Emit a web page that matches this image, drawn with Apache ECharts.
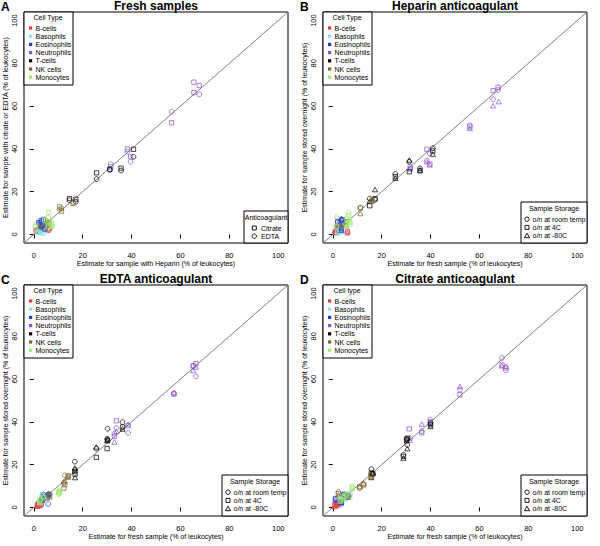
<!DOCTYPE html>
<html><head><meta charset="utf-8">
<script src="https://cdn.jsdelivr.net/npm/echarts@6/dist/echarts.min.js"></script>
<style>html,body{margin:0;padding:0;background:#fff}#c{width:600px;height:546px}</style>
</head><body><div id="c"></div>
<script>
// ---------- DATA ----------
const cellTypes = ['B-cells','Basophils','Eosinophils','Neutrophils','T-cells','NK cells','Monocytes'];
const anticoagulants = ['Citrate','EDTA'];                       // code 0, 1 (panel A)
const storages = ['o/n at room temp','o/n at 4C','o/n at -80C']; // code 0, 1, 2 (panels B-D)
const tickVals = [0,20,40,60,80,100];
const diagonal = [-4,104];
const panelTitles = ['Fresh samples','Heparin anticoagulant','EDTA anticoagulant','Citrate anticoagulant'];
const panelLetters = ['A','B','C','D'];
const xNames = ['Estimate for sample with Heparin (% of leukocytes)','Estimate for fresh sample (% of leukocytes)','Estimate for fresh sample (% of leukocytes)','Estimate for fresh sample (% of leukocytes)'];
const yNames = ['Estimate for sample with citrate or EDTA (% of leukocytes)','Estimate for sample stored overnight (% of leukocytes)','Estimate for sample stored overnight (% of leukocytes)','Estimate for sample stored overnight (% of leukocytes)'];
const cellLegendTitles = ['Cell Type','Cell Type','Cell Type','Cell type'];

// Panel A: [x, y, anticoagulant code]
const A_Bcells = [[1.0,1.5,0],[1.0,2.0,1],[1.5,1.8,0],[1.8,2.5,1],[2.5,2.1,0],[2.5,3.0,1],[5.8,2.0,0],[5.8,2.6,1],[6.5,3.0,0],[6.3,2.2,1],[2.0,1.2,0],[2.0,1.6,1]];
const A_Basophils = [[2.0,1.0,0],[2.0,1.5,1],[3.0,0.8,0],[3.0,1.3,1],[4.0,0.6,0],[4.0,1.0,1],[2.6,2.0,0],[2.6,1.6,1],[3.5,1.8,0],[3.5,2.4,1],[1.5,0.9,0],[1.5,1.3,1]];
const A_Eosinophils = [[2.0,5.5,0],[2.0,5.0,1],[3.0,6.5,0],[3.0,6.0,1],[3.5,4.0,0],[3.5,3.5,1],[4.0,7.0,0],[4.0,6.3,1],[4.5,2.5,0],[4.5,3.0,1],[2.5,4.5,0],[2.5,4.0,1]];
const A_Neutrophils = [[65.5,71.2,0],[65.5,66.3,0],[67.7,69.6,0],[67.7,65.5,1],[56.4,52.2,0],[56.4,57.4,1],[38.3,39.9,0],[38.3,38.7,1],[39.6,36.3,0],[39.6,34.0,1],[31.5,31.6,0],[31.5,32.9,1]];
const A_Tcells = [[40.8,39.8,0],[40.8,36.3,1],[35.7,31.0,0],[35.7,29.9,1],[31.1,30.5,0],[31.1,30.2,1],[25.7,28.8,0],[25.7,25.9,1],[14.6,16.8,0],[14.6,16.0,1],[17.2,16.5,0],[17.2,15.3,1]];
const A_NKcells = [[10.6,12.9,0],[10.6,11.7,1],[11.3,10.9,0],[11.3,12.2,1],[16.1,14.5,0],[16.1,15.2,1],[5.5,5.0,0],[5.5,6.0,1],[3.0,4.0,0],[3.0,3.2,1],[6.2,5.5,0],[6.2,4.6,1]];
const A_Monocytes = [[6.1,10.3,0],[5.9,7.8,1],[7.2,4.8,0],[7.2,5.8,1],[7.5,3.6,0],[7.5,4.4,1],[0.7,3.6,0],[0.7,4.2,1],[4.5,6.5,0],[4.5,7.2,1],[6.0,4.0,0],[6.0,3.0,1]];

// Panel B: [x, y, storage code]
const B_Bcells = [[1.0,0.8,0],[1.0,1.2,1],[1.0,1.8,2],[1.5,2.0,0],[1.5,1.0,1],[1.5,2.6,2],[2.0,1.5,0],[2.0,2.5,1],[2.0,3.2,2],[6.0,1.0,0],[6.0,1.5,1],[6.0,0.8,2]];
const B_Basophils = [[2.0,1.0,0],[2.0,1.5,1],[2.0,0.7,2],[3.5,2.0,0],[3.5,1.5,1],[3.5,1.2,2],[3.0,2.5,0],[3.0,1.8,1],[3.0,2.2,2]];
const B_Eosinophils = [[3.5,6.5,0],[3.5,6.8,1],[3.5,7.5,2],[4.0,6.2,0],[4.0,7.0,1],[4.0,5.5,2],[2.0,5.5,0],[2.0,6.0,1],[2.0,5.0,2],[3.5,3.0,0],[3.5,2.6,1],[3.5,2.0,2]];
const B_Neutrophils = [[65.6,63.2,0],[65.6,67.2,1],[65.6,60.2,2],[67.6,67.6,0],[67.6,68.8,1],[67.9,62.1,2],[56.1,51.0,0],[56.1,50.3,1],[56.1,49.6,2],[38.5,34.5,0],[38.5,39.8,1],[38.5,34.0,2],[39.7,37.9,0],[39.7,32.9,1],[39.7,32.6,2],[31.7,31.7,0],[31.7,30.6,1],[31.7,31.0,2]];
const B_Tcells = [[40.9,40.3,0],[40.9,39.0,1],[40.9,37.6,2],[31.3,34.0,0],[31.3,29.3,1],[31.3,34.8,2],[35.7,30.9,0],[35.7,29.7,1],[35.7,30.2,2],[25.6,28.3,0],[25.6,27.0,1],[25.6,26.3,2],[15.1,16.7,0],[15.1,13.4,1],[15.1,15.6,2],[17.3,16.2,0],[17.3,16.7,1],[17.3,21.0,2]];
const B_NKcells = [[11.3,12.6,0],[11.3,12.3,1],[11.3,9.8,2],[16.0,16.2,0],[16.0,15.4,1],[15.8,15.8,2],[3.0,4.0,0],[3.0,3.5,1],[3.0,4.5,2],[5.5,5.5,0],[5.5,6.0,1],[5.5,4.5,2]];
const B_Monocytes = [[1.5,4.0,0],[1.5,3.5,1],[1.5,8.6,2],[6.5,10.3,0],[6.5,9.0,1],[6.5,6.0,2],[7.0,4.5,0],[7.0,5.5,1],[7.0,7.0,2],[5.5,5.0,0],[5.5,7.5,1],[5.5,4.0,2]];

// Panel C: [x, y, storage code]
const C_Bcells = [[1.5,0.8,0],[1.5,1.2,1],[1.5,0.6,2],[2.0,1.5,0],[2.0,2.0,1],[2.0,1.0,2],[2.5,2.0,0],[2.5,2.6,1],[2.5,1.6,2],[3.0,1.0,0],[3.0,1.5,1],[3.0,2.2,2]];
const C_Basophils = [[4.0,5.0,0],[3.5,6.0,1],[2.9,5.6,2],[2.5,2.0,0],[2.5,2.8,1],[2.5,3.5,2],[3.5,4.0,0],[3.5,4.6,1],[3.5,3.0,2]];
const C_Eosinophils = [[5.9,1.6,0],[5.9,5.9,1],[6.2,6.5,2],[5.5,5.0,0],[5.5,4.5,1],[5.5,6.2,2],[4.0,6.0,0],[4.0,5.2,1],[4.0,4.4,2],[3.5,4.0,0],[3.5,3.4,1],[3.5,4.8,2]];
const C_Neutrophils = [[65.2,66.0,0],[65.2,66.3,1],[65.2,64.1,2],[66.3,61.3,0],[66.3,67.2,1],[66.3,65.7,2],[57.3,53.4,0],[57.3,53.0,1],[57.3,53.8,2],[33.8,37.1,0],[33.8,40.5,1],[33.8,35.6,2],[33.0,34.5,0],[33.0,33.2,1],[33.0,30.6,2],[38.6,34.8,0],[38.6,38.2,1],[38.6,39.0,2]];
const C_Tcells = [[36.3,39.9,0],[36.3,37.6,1],[36.3,36.7,2],[30.2,36.8,0],[30.2,31.4,1],[30.2,32.1,2],[30.0,32.0,0],[30.0,27.5,1],[30.0,31.2,2],[25.6,27.5,0],[25.6,23.4,1],[25.6,28.3,2],[16.8,21.4,0],[16.8,16.8,1],[16.8,18.4,2],[16.9,17.5,0],[16.9,15.6,1],[16.9,14.0,2]];
const C_NKcells = [[12.7,15.0,0],[12.7,10.6,1],[12.7,12.6,2],[12.3,11.5,0],[12.3,9.0,1],[12.3,12.0,2],[14.1,14.5,0],[14.1,14.8,1],[14.1,14.2,2],[6.5,6.2,0],[6.5,5.6,1],[6.5,5.0,2],[3.5,3.0,0],[3.5,3.6,1],[3.5,4.2,2]];
const C_Monocytes = [[10.4,6.7,0],[10.4,7.5,1],[10.4,8.3,2],[10.2,6.2,0],[10.2,7.0,1],[10.2,7.8,2],[2.5,3.0,0],[2.5,3.6,1],[2.5,2.4,2],[4.0,5.5,0],[4.0,4.5,1],[4.0,5.0,2]];

// Panel D: [x, y, storage code]
const D_Bcells = [[0.8,0.8,0],[0.8,1.2,1],[0.8,0.5,2],[1.5,1.2,0],[1.5,1.8,1],[1.5,1.5,2],[2.0,1.8,0],[2.0,2.4,1],[2.0,1.0,2],[3.0,2.8,0],[3.0,2.2,1],[3.0,2.5,2]];
const D_Basophils = [[5.0,5.5,0],[5.0,6.0,1],[5.0,5.2,2],[6.0,6.2,0],[6.0,5.6,1],[6.0,5.0,2],[7.0,5.5,0],[7.0,6.3,1],[7.0,4.8,2]];
const D_Eosinophils = [[1.1,3.9,0],[1.1,4.2,1],[1.1,3.5,2],[4.5,5.8,0],[4.5,6.2,1],[4.5,5.4,2],[3.5,1.8,0],[3.5,2.5,1],[3.5,2.2,2],[5.5,5.0,0],[5.5,4.6,1],[5.5,5.6,2]];
const D_Neutrophils = [[69.2,69.9,0],[69.2,66.6,1],[69.2,66.2,2],[70.8,64.1,0],[70.8,65.2,1],[70.8,66.0,2],[52.0,55.1,0],[52.0,52.7,1],[52.0,56.6,2],[39.9,41.0,0],[39.9,40.0,1],[39.9,39.3,2],[36.4,35.6,0],[36.4,34.9,1],[36.4,39.0,2],[31.6,32.3,0],[31.3,36.7,1],[31.6,31.5,2]];
const D_Tcells = [[40.0,39.5,0],[40.0,38.6,1],[40.0,37.9,2],[30.5,29.3,0],[30.5,32.4,1],[30.5,27.5,2],[30.2,32.0,0],[30.2,31.7,1],[30.2,31.2,2],[28.9,24.6,0],[28.9,23.9,1],[28.9,23.1,2],[15.8,17.9,0],[15.8,16.1,1],[15.8,14.2,2],[16.4,15.5,0],[16.4,15.8,1],[16.4,16.2,2]];
const D_NKcells = [[15.6,14.5,0],[15.6,15.3,1],[15.6,14.0,2],[12.6,10.9,0],[12.6,10.5,1],[12.6,11.4,2],[11.0,9.0,0],[11.0,9.5,1],[11.0,9.8,2],[2.3,7.2,0],[2.3,6.5,1],[2.3,5.9,2],[6.5,5.5,0],[6.2,4.8,1],[6.0,6.0,2]];
const D_Monocytes = [[7.9,9.8,0],[7.9,9.3,1],[7.9,8.8,2],[3.0,3.5,0],[3.0,4.0,1],[3.0,3.0,2],[4.5,4.5,0],[4.5,5.0,1],[4.5,3.8,2],[5.5,6.0,0],[5.5,5.3,1],[5.5,6.5,2]];

// ---------- STYLE / LAYOUT ----------
const FONT = '"Liberation Sans", Arial, Helvetica, sans-serif';
const cellColors = ['#E0393E','#8EE3EC','#1F3FD6','#9050D0','#000000','#7B6630','#9CEB6E'];
const panelSets = [
  [A_Bcells,A_Basophils,A_Eosinophils,A_Neutrophils,A_Tcells,A_NKcells,A_Monocytes],
  [B_Bcells,B_Basophils,B_Eosinophils,B_Neutrophils,B_Tcells,B_NKcells,B_Monocytes],
  [C_Bcells,C_Basophils,C_Eosinophils,C_Neutrophils,C_Tcells,C_NKcells,C_Monocytes],
  [D_Bcells,D_Basophils,D_Eosinophils,D_Neutrophils,D_Tcells,D_NKcells,D_Monocytes]
];
const grids = [
  {left:24, top:12, width:264, height:231},
  {left:323, top:12, width:264, height:231},
  {left:24, top:285, width:264, height:231},
  {left:323, top:285, width:264, height:231}
];
const symFresh = ['rect','circle'];
const symStore = ['circle','rect','triangle'];
const symSize = {circle:4.8, rect:4.3, triangle:[5.2,4.6]};

const series = [];
const xAxes = [], yAxes = [], titles = [];
grids.forEach((g, i) => {
  xAxes.push({
    gridIndex:i, type:'value', min:-4, max:104,
    name:xNames[i], nameLocation:'middle', nameGap:16,
    nameTextStyle:{fontSize:7, color:'#000', fontFamily:FONT},
    axisLine:{show:false}, splitLine:{show:false},
    axisTick:{show:true, length:4, customValues:tickVals, lineStyle:{color:'#000', width:1}},
    axisLabel:{customValues:tickVals, fontSize:7.5, color:'#000', margin:8, fontFamily:FONT}
  });
  yAxes.push({
    gridIndex:i, type:'value', min:-4, max:104,
    name:yNames[i], nameLocation:'middle', nameGap:14,
    nameTextStyle:{fontSize:7, color:'#000', fontFamily:FONT},
    axisLine:{show:false}, splitLine:{show:false},
    axisTick:{show:true, length:4, customValues:tickVals, lineStyle:{color:'#000', width:1}},
    axisLabel:{customValues:tickVals, fontSize:7.5, color:'#000', margin:6, rotate:90, fontFamily:FONT}
  });
  titles.push({text:panelTitles[i], left:g.left + g.width/2, top:g.top - 12, textAlign:'center',
    textStyle:{fontSize:12, fontWeight:'bold', color:'#000', fontFamily:FONT}, padding:0});
  titles.push({text:panelLetters[i], left:(i%2===0?1:300), top:g.top - 11,
    textStyle:{fontSize:12, fontWeight:'bold', color:'#000', fontFamily:FONT}, padding:0});

  series.push({type:'line', xAxisIndex:i, yAxisIndex:i, data:[[diagonal[0],diagonal[0]],[diagonal[1],diagonal[1]]],
    symbol:'none', silent:true, lineStyle:{color:'#808080', width:1}, z:1});

  const syms = i === 0 ? symFresh : symStore;
  const codeNames = i === 0 ? anticoagulants : storages;
  panelSets[i].forEach((set, c) => {
    syms.forEach((sym, code) => {
      const pts = set.filter(p => p[2] === code).map(p => [p[0], p[1]]);
      if (!pts.length) return;
      series.push({
        type:'scatter', name:cellTypes[c] + ' / ' + codeNames[code],
        xAxisIndex:i, yAxisIndex:i, data:pts,
        symbol:sym, symbolSize:symSize[sym], silent:true, z:2,
        itemStyle:{color:'rgba(0,0,0,0)', borderColor:cellColors[c], borderWidth:0.9}
      });
    });
  });
});

// ---------- LEGENDS (graphic) ----------
const graphic = [];
function txt(x, y, s, align) {
  return {type:'text', x:x, y:y, silent:true, z:100,
    style:{text:s, fontSize:7, fill:'#000', fontFamily:FONT, align:align||'left', verticalAlign:'middle'}};
}
function cellLegend(left, top, title) {
  graphic.push({type:'rect', shape:{x:left, y:top, width:49, height:73}, silent:true, z:99,
    style:{fill:'#fff', stroke:'#000', lineWidth:1}});
  graphic.push(txt(left + 24, top + 5.8, title, 'center'));
  cellTypes.forEach((n, k) => {
    const y = top + 16 + k * 8.2;
    graphic.push({type:'rect', shape:{x:left + 5, y:y - 1.6, width:3.2, height:3.2}, silent:true, z:100,
      style:{fill:cellColors[k]}});
    graphic.push(txt(left + 11.5, y, n));
  });
}
function symbolShape(sym, cx, cy) {
  if (sym === 'circle') return {type:'circle', shape:{cx:cx, cy:cy, r:2.2}, silent:true, z:100, style:{fill:'none', stroke:'#000', lineWidth:0.9}};
  if (sym === 'rect') return {type:'rect', shape:{x:cx-2, y:cy-2, width:4, height:4}, silent:true, z:100, style:{fill:'none', stroke:'#000', lineWidth:0.9}};
  return {type:'polygon', shape:{points:[[cx, cy-2.4],[cx+2.6, cy+2.1],[cx-2.6, cy+2.1]]}, silent:true, z:100, style:{fill:'none', stroke:'#000', lineWidth:0.9}};
}
function codeLegend(left, top, w, h, title, names, syms, titleDy, firstDy, symDx, txtDx) {
  graphic.push({type:'rect', shape:{x:left, y:top, width:w, height:h}, silent:true, z:99,
    style:{fill:'#fff', stroke:'#000', lineWidth:1}});
  graphic.push(txt(left + w/2, top + titleDy, title, 'center'));
  names.forEach((n, k) => {
    const y = top + firstDy + k * 8.2;
    graphic.push(symbolShape(syms[k], left + symDx, y));
    graphic.push(txt(left + txtDx, y, n));
  });
}
grids.forEach((g, i) => cellLegend(g.left, g.top, cellLegendTitles[i]));
codeLegend(244, 211, 44, 32, 'Anticoagulant', anticoagulants, symFresh, 6, 17, 10.3, 17);
[1,2,3].forEach(i => {
  const g = grids[i];
  codeLegend(g.left + g.width - 66, g.top + g.height - 41, 66, 41, 'Sample Storage', storages, symStore, 6.8, 17.2, 6, 11.5);
});

const chart = echarts.init(document.getElementById('c'), null, {renderer:'svg'});
chart.setOption({
  animation:false,
  backgroundColor:'#fff',
  title:titles,
  grid:grids.map(g => Object.assign({show:true, borderColor:'#000', borderWidth:1, backgroundColor:'transparent', containLabel:false}, g)),
  xAxis:xAxes, yAxis:yAxes,
  series:series,
  graphic:graphic
});
</script>
</body></html>
